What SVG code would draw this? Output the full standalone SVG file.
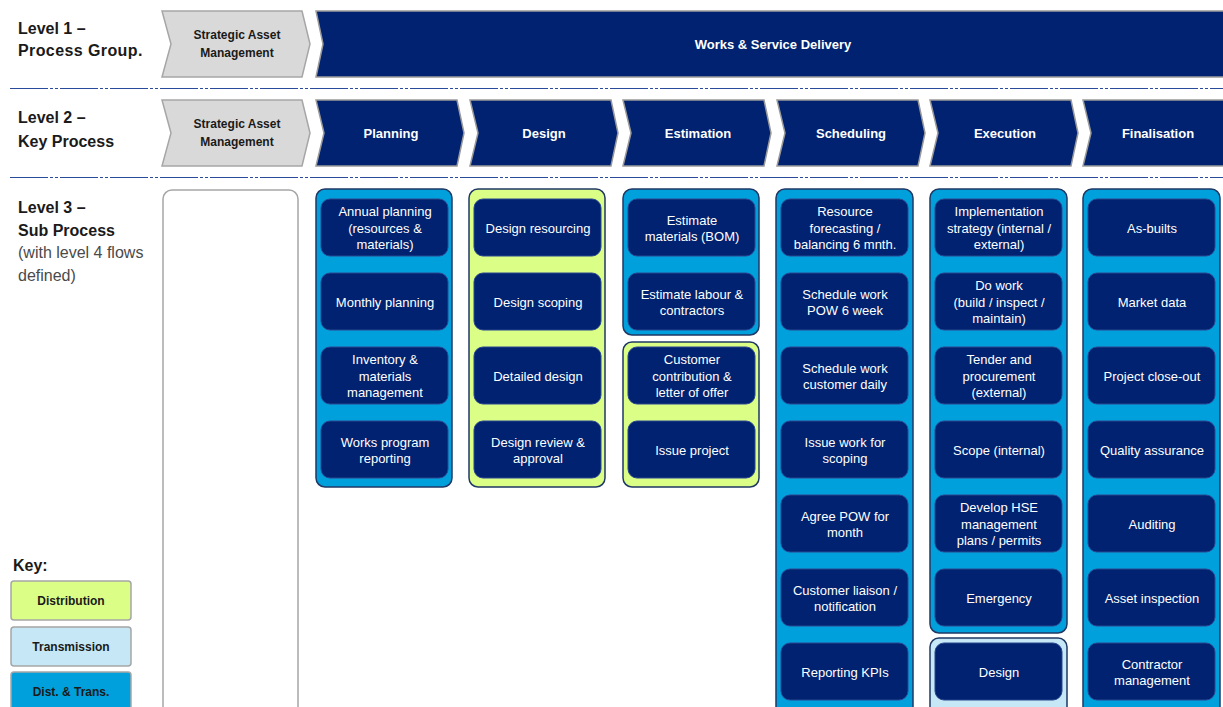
<svg xmlns="http://www.w3.org/2000/svg" width="1223" height="707" viewBox="0 0 1223 707">
  <style>
    .lvl { font-family: "Liberation Sans", Arial, sans-serif; font-size: 16px; font-weight: bold; fill: #1a1a1a; }
    .lvlnote { font-family: "Liberation Sans", Arial, sans-serif; font-size: 16px; fill: #4a4a4a; }
    .sep { stroke: #2a4a9a; stroke-width: 1.2; stroke-dasharray: 38 2 3 2 3 2; fill: none; }
    .chev-grey { fill: #d9d9d9; stroke: #a6a6a6; stroke-width: 1.5; }
    .chev-navy { fill: #002270; stroke: #9a9a9a; stroke-width: 1.5; }
    .chev-grey-t { font-family: "Liberation Sans", Arial, sans-serif; font-size: 12px; font-weight: bold; fill: #1a1a1a; text-anchor: middle; }
    .chev-navy-t { font-family: "Liberation Sans", Arial, sans-serif; font-size: 13px; font-weight: bold; fill: #ffffff; text-anchor: middle; }
    .panel { stroke: #1f3864; stroke-width: 1.5; }
    .both { fill: #00a0dc; }
    .dist { fill: #dbfe87; }
    .trans { fill: #c6e7f5; }
    .empty { fill: #ffffff; stroke: #a6a6a6; stroke-width: 1.5; }
    .box { fill: #002270; stroke: #2a4690; stroke-width: 1; }
    .box-t { font-family: "Liberation Sans", Arial, sans-serif; font-size: 13px; fill: #ffffff; text-anchor: middle; }
    .key { stroke: #a6a6a6; stroke-width: 1.5; }
    .key-t { font-family: "Liberation Sans", Arial, sans-serif; font-size: 12px; font-weight: bold; fill: #1a1a1a; text-anchor: middle; }
  </style>

  <!-- row labels -->
  <g id="row-labels">
    <text class="lvl" x="18" y="34">Level 1 –</text>
    <text class="lvl" x="18" y="56" letter-spacing="0.4">Process Group.</text>
    <text class="lvl" x="18" y="123">Level 2 –</text>
    <text class="lvl" x="18" y="147">Key Process</text>
    <text class="lvl" x="18" y="213">Level 3 –</text>
    <text class="lvl" x="18" y="236">Sub Process</text>
    <text class="lvlnote" x="18" y="258">(with level 4 flows</text>
    <text class="lvlnote" x="18" y="281">defined)</text>
  </g>

  <!-- row separators -->
  <g id="separators">
    <line class="sep" x1="10" y1="88.5" x2="1223" y2="88.5"/>
    <line class="sep" x1="10" y1="177.5" x2="1223" y2="177.5"/>
  </g>

  <!-- Level 1 -->
  <g id="l1-sam">
    <polygon class="chev-grey" points="162,11 302,11 310,44 302,77 162,77 171,44"/>
    <text class="chev-grey-t" x="237" y="39">Strategic Asset</text>
    <text class="chev-grey-t" x="237" y="57">Management</text>
  </g>
  <g id="l1-works">
    <polygon class="chev-navy" points="316,11 1232,11 1232,77 316,77 323,44"/>
    <text class="chev-navy-t" x="773" y="48.5">Works &amp; Service Delivery</text>
  </g>

  <!-- Level 2 -->
  <g id="l2-sam">
    <polygon class="chev-grey" points="162,100 302,100 310,133 302,166 162,166 171,133"/>
    <text class="chev-grey-t" x="237" y="128">Strategic Asset</text>
    <text class="chev-grey-t" x="237" y="146">Management</text>
  </g>
  <g id="l2-planning">
    <polygon class="chev-navy" points="316,100 457,100 464,133 457,166 316,166 324,133"/>
    <text class="chev-navy-t" x="391" y="137.5">Planning</text>
  </g>
  <g id="l2-design">
    <polygon class="chev-navy" points="470,100 611,100 618,133 611,166 470,166 478,133"/>
    <text class="chev-navy-t" x="544" y="137.5">Design</text>
  </g>
  <g id="l2-estimation">
    <polygon class="chev-navy" points="623,100 764,100 771,133 764,166 623,166 631,133"/>
    <text class="chev-navy-t" x="698" y="137.5">Estimation</text>
  </g>
  <g id="l2-scheduling">
    <polygon class="chev-navy" points="777,100 918,100 925,133 918,166 777,166 785,133"/>
    <text class="chev-navy-t" x="851" y="137.5">Scheduling</text>
  </g>
  <g id="l2-execution">
    <polygon class="chev-navy" points="930,100 1071,100 1078,133 1071,166 930,166 938,133"/>
    <text class="chev-navy-t" x="1005" y="137.5">Execution</text>
  </g>
  <g id="l2-finalisation">
    <polygon class="chev-navy" points="1083,100 1224,100 1231,133 1224,166 1083,166 1091,133"/>
    <text class="chev-navy-t" x="1158" y="137.5">Finalisation</text>
  </g>

  <!-- Level 3 panels -->
  <g id="l3-sam">
    <rect class="empty" x="163" y="190" width="135" height="530" rx="9"/>
  </g>

  <g id="l3-planning">
    <rect class="panel both" x="316" y="189" width="136" height="298" rx="9"/>
    <rect class="box" x="321" y="199" width="127" height="57" rx="9"/>
    <text class="box-t" x="385" y="216">Annual planning</text>
    <text class="box-t" x="385" y="232.5">(resources &amp;</text>
    <text class="box-t" x="385" y="249">materials)</text>
    <rect class="box" x="321" y="273" width="127" height="57" rx="9"/>
    <text class="box-t" x="385" y="306.5">Monthly planning</text>
    <rect class="box" x="321" y="347" width="127" height="57" rx="9"/>
    <text class="box-t" x="385" y="364">Inventory &amp;</text>
    <text class="box-t" x="385" y="380.5">materials</text>
    <text class="box-t" x="385" y="397">management</text>
    <rect class="box" x="321" y="421" width="127" height="57" rx="9"/>
    <text class="box-t" x="385" y="446.5">Works program</text>
    <text class="box-t" x="385" y="462.5">reporting</text>
  </g>

  <g id="l3-design">
    <rect class="panel dist" x="469" y="189" width="136" height="298" rx="9"/>
    <rect class="box" x="474" y="199" width="127" height="57" rx="9"/>
    <text class="box-t" x="538" y="232.5">Design resourcing</text>
    <rect class="box" x="474" y="273" width="127" height="57" rx="9"/>
    <text class="box-t" x="538" y="306.5">Design scoping</text>
    <rect class="box" x="474" y="347" width="127" height="57" rx="9"/>
    <text class="box-t" x="538" y="380.5">Detailed design</text>
    <rect class="box" x="474" y="421" width="127" height="57" rx="9"/>
    <text class="box-t" x="538" y="446.5">Design review &amp;</text>
    <text class="box-t" x="538" y="462.5">approval</text>
  </g>

  <g id="l3-estimation">
    <rect class="panel both" x="623" y="189" width="136" height="146" rx="9"/>
    <rect class="box" x="628" y="199" width="127" height="57" rx="9"/>
    <text class="box-t" x="692" y="224.5">Estimate</text>
    <text class="box-t" x="692" y="240.5">materials (BOM)</text>
    <rect class="box" x="628" y="273" width="127" height="57" rx="9"/>
    <text class="box-t" x="692" y="298.5">Estimate labour &amp;</text>
    <text class="box-t" x="692" y="314.5">contractors</text>
    <rect class="panel dist" x="623" y="342" width="136" height="145" rx="9"/>
    <rect class="box" x="628" y="347" width="127" height="57" rx="9"/>
    <text class="box-t" x="692" y="364">Customer</text>
    <text class="box-t" x="692" y="380.5">contribution &amp;</text>
    <text class="box-t" x="692" y="397">letter of offer</text>
    <rect class="box" x="628" y="421" width="127" height="57" rx="9"/>
    <text class="box-t" x="692" y="454.5">Issue project</text>
  </g>

  <g id="l3-scheduling">
    <rect class="panel both" x="776" y="189" width="137" height="530" rx="9"/>
    <rect class="box" x="781" y="199" width="127" height="57" rx="9"/>
    <text class="box-t" x="845" y="216">Resource</text>
    <text class="box-t" x="845" y="232.5">forecasting /</text>
    <text class="box-t" x="845" y="249">balancing 6 mnth.</text>
    <rect class="box" x="781" y="273" width="127" height="57" rx="9"/>
    <text class="box-t" x="845" y="298.5">Schedule work</text>
    <text class="box-t" x="845" y="314.5">POW 6 week</text>
    <rect class="box" x="781" y="347" width="127" height="57" rx="9"/>
    <text class="box-t" x="845" y="372.5">Schedule work</text>
    <text class="box-t" x="845" y="388.5">customer daily</text>
    <rect class="box" x="781" y="421" width="127" height="57" rx="9"/>
    <text class="box-t" x="845" y="446.5">Issue work for</text>
    <text class="box-t" x="845" y="462.5">scoping</text>
    <rect class="box" x="781" y="495" width="127" height="57" rx="9"/>
    <text class="box-t" x="845" y="520.5">Agree POW for</text>
    <text class="box-t" x="845" y="536.5">month</text>
    <rect class="box" x="781" y="569" width="127" height="57" rx="9"/>
    <text class="box-t" x="845" y="594.5">Customer liaison /</text>
    <text class="box-t" x="845" y="610.5">notification</text>
    <rect class="box" x="781" y="643" width="127" height="57" rx="9"/>
    <text class="box-t" x="845" y="676.5">Reporting KPIs</text>
  </g>

  <g id="l3-execution">
    <rect class="panel both" x="930" y="189" width="137" height="444" rx="9"/>
    <rect class="box" x="935" y="199" width="127" height="57" rx="9"/>
    <text class="box-t" x="999" y="216">Implementation</text>
    <text class="box-t" x="999" y="232.5">strategy (internal /</text>
    <text class="box-t" x="999" y="249">external)</text>
    <rect class="box" x="935" y="273" width="127" height="57" rx="9"/>
    <text class="box-t" x="999" y="290">Do work</text>
    <text class="box-t" x="999" y="306.5">(build / inspect /</text>
    <text class="box-t" x="999" y="323">maintain)</text>
    <rect class="box" x="935" y="347" width="127" height="57" rx="9"/>
    <text class="box-t" x="999" y="364">Tender and</text>
    <text class="box-t" x="999" y="380.5">procurement</text>
    <text class="box-t" x="999" y="397">(external)</text>
    <rect class="box" x="935" y="421" width="127" height="57" rx="9"/>
    <text class="box-t" x="999" y="454.5">Scope (internal)</text>
    <rect class="box" x="935" y="495" width="127" height="57" rx="9"/>
    <text class="box-t" x="999" y="512">Develop HSE</text>
    <text class="box-t" x="999" y="528.5">management</text>
    <text class="box-t" x="999" y="545">plans / permits</text>
    <rect class="box" x="935" y="569" width="127" height="57" rx="9"/>
    <text class="box-t" x="999" y="602.5">Emergency</text>
    <rect class="panel trans" x="930" y="638" width="137" height="80" rx="9"/>
    <rect class="box" x="935" y="643" width="127" height="57" rx="9"/>
    <text class="box-t" x="999" y="676.5">Design</text>
  </g>

  <g id="l3-finalisation">
    <rect class="panel both" x="1083" y="189" width="137" height="530" rx="9"/>
    <rect class="box" x="1088" y="199" width="127" height="57" rx="9"/>
    <text class="box-t" x="1152" y="232.5">As-builts</text>
    <rect class="box" x="1088" y="273" width="127" height="57" rx="9"/>
    <text class="box-t" x="1152" y="306.5">Market data</text>
    <rect class="box" x="1088" y="347" width="127" height="57" rx="9"/>
    <text class="box-t" x="1152" y="380.5">Project close-out</text>
    <rect class="box" x="1088" y="421" width="127" height="57" rx="9"/>
    <text class="box-t" x="1152" y="454.5">Quality assurance</text>
    <rect class="box" x="1088" y="495" width="127" height="57" rx="9"/>
    <text class="box-t" x="1152" y="528.5">Auditing</text>
    <rect class="box" x="1088" y="569" width="127" height="57" rx="9"/>
    <text class="box-t" x="1152" y="602.5">Asset inspection</text>
    <rect class="box" x="1088" y="643" width="127" height="57" rx="9"/>
    <text class="box-t" x="1152" y="668.5">Contractor</text>
    <text class="box-t" x="1152" y="684.5">management</text>
  </g>

  <!-- legend -->
  <g id="key">
    <text class="lvl" x="13" y="571">Key:</text>
    <rect class="key dist" x="11" y="581" width="120" height="39" rx="3"/>
    <text class="key-t" x="71" y="604.5">Distribution</text>
    <rect class="key trans" x="11" y="627" width="120" height="39" rx="3"/>
    <text class="key-t" x="71" y="650.5">Transmission</text>
    <rect class="key both" x="11" y="672" width="120" height="45" rx="3"/>
    <text class="key-t" x="71" y="696">Dist. &amp; Trans.</text>
  </g>
</svg>
